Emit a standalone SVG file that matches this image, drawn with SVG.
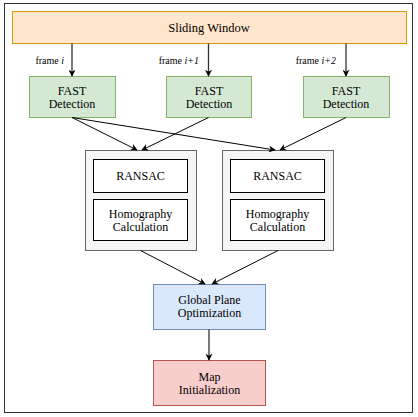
<svg xmlns="http://www.w3.org/2000/svg" width="418" height="417" viewBox="0 0 418 417">
<defs>
<marker id="ah" viewBox="0 0 10 10" refX="9" refY="5" markerWidth="7" markerHeight="7" orient="auto" markerUnits="userSpaceOnUse">
<path d="M0,0 L10,5 L0,10 L3,5 Z" fill="#000"/>
</marker>
<style>
svg text, svg tspan{font-family:'Liberation Serif',serif !important}
text{fill:#000;text-anchor:middle}
.t{font-size:12px}
.big{font-size:12.5px}
.lbl{font-size:10px;text-anchor:end}
.c{fill:none;stroke:#000;stroke-width:1;marker-end:url(#ah)}
.v{stroke:#333;stroke-width:1.3}
</style>
</defs>
<rect x="0" y="0" width="418" height="417" fill="#fff"/>
<rect x="4.5" y="3.5" width="408" height="409" fill="#fff" stroke="#333" stroke-width="1"/>
<g font-family="Liberation Serif">
<g id="sliding">
<rect x="12.5" y="11.5" width="394" height="32" fill="#ffe6cc" stroke="#d79b00"/>
<text class="big" x="209" y="32" style="font-family:'Liberation Serif'">Sliding Window</text>
</g>
<g id="fast1">
<rect x="29.5" y="76.5" width="86" height="41" fill="#d5e8d4" stroke="#82b366"/>
<text class="t" x="72" y="95" style="font-family:'Liberation Serif'">FAST</text><text class="t" x="72" y="108" style="font-family:'Liberation Serif'">Detection</text>
</g>
<g id="fast2">
<rect x="166.5" y="76.5" width="85" height="41" fill="#d5e8d4" stroke="#82b366"/>
<text class="t" x="209" y="95" style="font-family:'Liberation Serif'">FAST</text><text class="t" x="209" y="108" style="font-family:'Liberation Serif'">Detection</text>
</g>
<g id="fast3">
<rect x="303.5" y="76.5" width="86" height="41" fill="#d5e8d4" stroke="#82b366"/>
<text class="t" x="346" y="95" style="font-family:'Liberation Serif'">FAST</text><text class="t" x="346" y="108" style="font-family:'Liberation Serif'">Detection</text>
</g>
<g id="group1">
<rect x="85.5" y="150.5" width="111" height="100" fill="#f5f5f5" stroke="#666"/>
</g>
<g id="ransac1">
<rect x="93.5" y="159.5" width="94" height="33" fill="#fff" stroke="#000"/>
<text class="t" x="140.5" y="180" style="font-family:'Liberation Serif'">RANSAC</text>
</g>
<g id="homo1">
<rect x="93.5" y="199.5" width="94" height="41" fill="#fff" stroke="#000"/>
<text class="t" x="140.5" y="218" style="font-family:'Liberation Serif'">Homography</text><text class="t" x="140.5" y="231" style="font-family:'Liberation Serif'">Calculation</text>
</g>
<g id="group2">
<rect x="222.5" y="150.5" width="111" height="100" fill="#f5f5f5" stroke="#666"/>
</g>
<g id="ransac2">
<rect x="230.5" y="159.5" width="94" height="33" fill="#fff" stroke="#000"/>
<text class="t" x="277.5" y="180" style="font-family:'Liberation Serif'">RANSAC</text>
</g>
<g id="homo2">
<rect x="230.5" y="199.5" width="94" height="41" fill="#fff" stroke="#000"/>
<text class="t" x="277.5" y="218" style="font-family:'Liberation Serif'">Homography</text><text class="t" x="277.5" y="231" style="font-family:'Liberation Serif'">Calculation</text>
</g>
<g id="global">
<rect x="153.5" y="284.5" width="112" height="45" fill="#dae8fc" stroke="#6c8ebf"/>
<text class="t" x="209.5" y="304" style="font-family:'Liberation Serif'">Global Plane</text><text class="t" x="209.5" y="317" style="font-family:'Liberation Serif'">Optimization</text>
</g>
<g id="map">
<rect x="153.5" y="360.5" width="112" height="45" fill="#f8cecc" stroke="#b85450"/>
<text class="t" x="209.5" y="381" style="font-family:'Liberation Serif'">Map</text><text class="t" x="209.5" y="394" style="font-family:'Liberation Serif'">Initialization</text>
</g>
<g id="connectors">
<line class="c v" x1="72" y1="43.5" x2="72" y2="76"/>
<line class="c v" x1="208.5" y1="43.5" x2="208.5" y2="76"/>
<line class="c v" x1="346" y1="43.5" x2="346" y2="76"/>
<line class="c" x1="72" y1="117.5" x2="137" y2="150"/>
<line class="c" x1="208.5" y1="117.5" x2="142" y2="150"/>
<line class="c" x1="72" y1="117.5" x2="275" y2="150"/>
<line class="c" x1="346" y1="117.5" x2="280" y2="150"/>
<line class="c" x1="140.5" y1="250.5" x2="205" y2="284"/>
<line class="c" x1="278" y1="250.5" x2="212" y2="284"/>
<line class="c v" x1="209" y1="329.5" x2="209" y2="360"/>
<text class="lbl" x="64" y="64" style="font-family:'Liberation Serif'">frame <tspan font-style="italic">i</tspan></text>
<text class="lbl" x="199" y="64" style="font-family:'Liberation Serif'">frame <tspan font-style="italic">i+1</tspan></text>
<text class="lbl" x="336" y="64" style="font-family:'Liberation Serif'">frame <tspan font-style="italic">i+2</tspan></text>
</g>
</g>
</svg>
